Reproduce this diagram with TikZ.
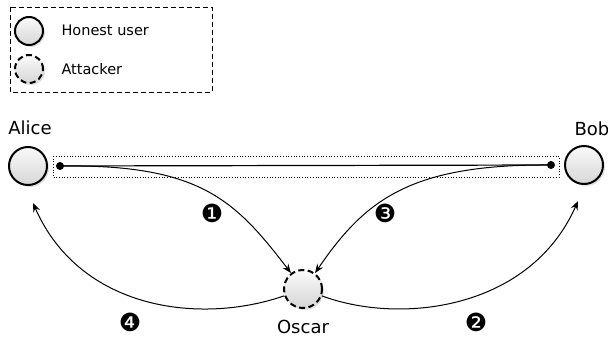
\documentclass[tikz,border=0pt]{standalone}
\usepackage{fontspec}
\setmainfont{DejaVu Sans}
\usetikzlibrary{shadows,arrows.meta}
\tikzset{
  user/.style={circle, minimum size=38pt, inner sep=0pt, line width=2pt, draw=black,
    top color=gray!4, bottom color=gray!32,
    drop shadow={shadow xshift=2pt, shadow yshift=-2pt, opacity=0.25, fill=gray}},
  attacker/.style={user, dash pattern=on 6pt off 3.5pt},
  smalluser/.style={user, minimum size=28pt},
  smallatt/.style={attacker, minimum size=28pt},
  lbl/.style={font=\fontsize{18}{20}\selectfont},
  legtxt/.style={font=\fontsize{14.5}{16}\selectfont, anchor=west},
  num/.style={font=\fontsize{25}{26}\selectfont, inner sep=0pt},
  conn/.style={line width=1pt, -{Stealth[length=9pt,width=7pt,inset=3pt]}},
  dotn/.style={circle, fill=black, minimum size=8pt, inner sep=0pt},
}
\begin{document}
\begin{tikzpicture}[x=1pt,y=-1pt]
\useasboundingbox (0,0) rectangle (608,337);
% legend
\draw[dash pattern=on 5pt off 3pt, line width=0.8pt] (10,7) rectangle (212,92);
\node[smalluser] (lh) at (29,31) {};
\node[smallatt] (la) at (29,69) {};
\node[legtxt] (lht) at (58,30) {Honest user};
\node[legtxt] (lat) at (58,69) {Attacker};
% main nodes
\node[user] (alice) at (28,166) {};
\node[user] (bob) at (584,165) {};
\node[attacker] (oscar) at (303,289) {};
\node[lbl] (alicet) at (30,128) {Alice};
\node[lbl] (bobt) at (592,129) {Bob};
\node[lbl] (oscart) at (303,327) {Oscar};
% channel
\draw[dotted, line width=0.7pt] (53,156) rectangle (559,177);
\node[dotn] (dl) at (60,166) {};
\node[dotn] (dr) at (551,165) {};
\draw[line width=1.2pt] (dl) -- (dr);
% connectors
\draw[conn] (dl.center) .. controls (200,164) and (235,200) .. (oscar.127);
\draw[conn] (dr.center) .. controls (410,164) and (365,200) .. (oscar.53);
\draw[conn] (oscar.200) .. controls (200,325) and (80,310) .. (33,203);
\draw[conn] (oscar.-20) .. controls (400,325) and (530,310) .. (578,201);
% numbers
\node[num] (n1) at (212,213) {❶};
\node[num] (n3) at (385,213) {❸};
\node[num] (n4) at (130,322) {❹};
\node[num] (n2) at (476,322) {❷};
\end{tikzpicture}
\end{document}
